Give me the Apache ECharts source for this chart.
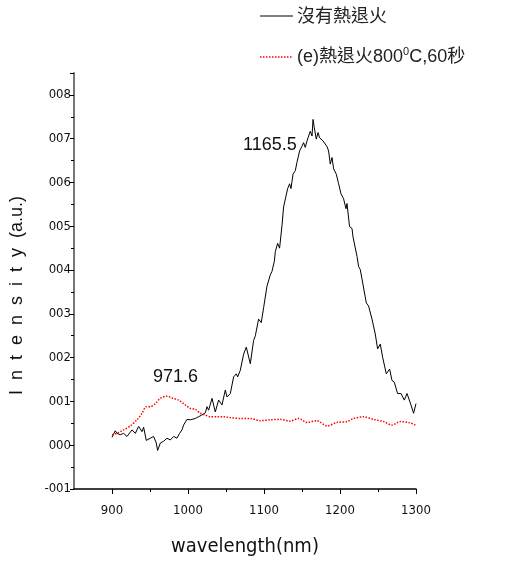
<!DOCTYPE html>
<html><head><meta charset="utf-8">
<script src="https://cdn.jsdelivr.net/npm/echarts@6/dist/echarts.min.js"></script>
<style>html,body{margin:0;padding:0;background:#fff}#c{width:506px;height:562px}</style>
</head><body><div id="c"></div>
<script>
var seriesNames = ['沒有熱退火', '(e)熱退火800⁰C,60秒'];
var xTicks = [900, 1000, 1100, 1200, 1300];
var xMinorTicks = [950, 1050, 1150, 1250];
var peakLabels = ['1165.5', '971.6'];
// black: no annealing [wavelength nm, intensity]
var noAnneal = [
[900,0.0018],[904.3,0.0033],[906.6,0.0027],[910.9,0.0024],[915.3,0.0027],[919.7,0.0020],[926.3,0.0035],[930.7,0.0027],
[935.0,0.0043],[939.5,0.0031],[941.6,0.0041],[945.1,0.0011],[950.4,0.0016],[954.7,0.0020],[958.3,0.0005],[960.0,-0.0012],
[963.6,0.0005],[967.9,0.0009],[972.4,0.0016],[976.7,0.0012],[981.1,0.0020],[985.5,0.0016],[988.9,0.0027],[992.1,0.0035],
[994.2,0.0046],[998.7,0.0059],[1003.0,0.0058],[1009.6,0.0061],[1013.9,0.0065],[1018.4,0.0069],[1022.8,0.0074],[1025.0,0.0088],
[1027.1,0.0080],[1031.6,0.0107],[1035.9,0.0076],[1040.3,0.0103],[1044.7,0.0092],[1049.1,0.0126],[1051.3,0.0110],[1055.7,0.0118],
[1060.0,0.0156],[1063.6,0.0163],[1065.3,0.0156],[1068.8,0.0171],[1073.2,0.0208],[1076.7,0.0224],[1082.0,0.0186],[1086.3,0.0239],
[1088.6,0.0250],[1092.9,0.0288],[1096.4,0.0280],[1099.5,0.0314],[1103.9,0.0363],[1108.3,0.0389],[1110.5,0.0397],[1113.6,0.0420],
[1114.9,0.0442],[1117.9,0.0461],[1120.5,0.0450],[1123.7,0.0502],[1125.8,0.0544],[1128.0,0.0548],[1131.1,0.0586],[1133.7,0.0597],
[1135.5,0.0586],[1138.2,0.0619],[1141.2,0.0627],[1143.4,0.0646],[1146.8,0.0672],[1150.0,0.0683],[1152.1,0.0691],[1154.3,0.0680],
[1156.6,0.0695],[1158.7,0.0691],[1160.9,0.0717],[1163.2,0.0706],[1164.5,0.0744],[1166.2,0.0725],[1168.8,0.0699],[1171.1,0.0714],
[1173.2,0.0702],[1177.6,0.0695],[1179.3,0.0691],[1182.9,0.0682],[1185.0,0.0672],[1187.2,0.0642],[1189.5,0.0657],[1191.6,0.0631],
[1195.1,0.0619],[1198.2,0.0597],[1201.3,0.0574],[1204.7,0.0563],[1207.9,0.0540],[1209.2,0.0552],[1212.6,0.0499],[1215.8,0.0495],
[1217.1,0.0476],[1218.8,0.0476],[1222.4,0.0431],[1224.5,0.0408],[1226.7,0.0401],[1228.9,0.0405],[1231.1,0.0359],[1234.6,0.0325],
[1237.6,0.0318],[1242.1,0.0288],[1246.4,0.0254],[1249.5,0.0220],[1253.0,0.0231],[1256.1,0.0201],[1260.9,0.0163],[1265.3,0.0174],
[1268.4,0.0148],[1271.4,0.0144],[1275.8,0.0118],[1280.3,0.0118],[1282.9,0.0114],[1284.6,0.0103],[1288.2,0.0118],[1290.3,0.0114],
[1293.4,0.0092],[1296.8,0.0073],[1300,0.0095]
];
// red: annealed 800C 60s
var annealed = [
[900,0.0024],[906.6,0.0027],[915.3,0.0035],[924.1,0.0044],[932.9,0.0058],[939.5,0.0073],[945.1,0.0088],[950.4,0.0088],
[957.0,0.0095],[963.6,0.0107],[972.4,0.0112],[978.9,0.0108],[987.6,0.0103],[996.4,0.0092],[1003.0,0.0084],[1009.6,0.0082],
[1016.2,0.0073],[1022.8,0.0069],[1029.3,0.0065],[1038.2,0.0065],[1046.8,0.0065],[1055.7,0.0063],[1068.8,0.0061],[1082.0,0.0061],
[1095.1,0.0056],[1108.3,0.0058],[1121.4,0.0059],[1134.6,0.0055],[1145.5,0.0061],[1156.6,0.0052],[1169.7,0.0056],[1182.9,0.0044],
[1196.1,0.0052],[1209.2,0.0054],[1217.9,0.0061],[1231.1,0.0065],[1244.2,0.0059],[1257.4,0.0054],[1268.4,0.0046],[1279.3,0.0054],
[1290.3,0.0052],[1299.1,0.0046]
];

var chart = echarts.init(document.getElementById('c'));
var lab = {color:'#111', fontFamily:'"Liberation Sans Narrow","DejaVu Sans Condensed","Liberation Sans",sans-serif', fontSize:13};
var txtFont = '"Liberation Sans","Noto Sans CJK TC",sans-serif';
chart.setOption({
  animation:false,
  backgroundColor:'#fff',
  grid:{left:74, right:90, top:73, bottom:69},
  xAxis:[{
    type:'value', min:850, max:1300,
    axisLine:{onZero:false, lineStyle:{color:'#000', width:1.5}},
    axisTick:{length:5, customValues:xTicks, lineStyle:{color:'#000', width:1}},
    axisLabel:Object.assign({margin:15, customValues:xTicks, formatter:function(v){return String(v);}}, lab),
    splitLine:{show:false},
    name:'wavelength(nm)', nameLocation:'middle', nameGap:48,
    nameTextStyle:{color:'#111', fontSize:20, fontFamily:'"Liberation Sans Narrow","DejaVu Sans Condensed","Liberation Sans",sans-serif'}
  },{
    type:'value', min:850, max:1300, position:'bottom',
    axisLine:{show:false, onZero:false},
    axisTick:{length:3, customValues:xMinorTicks, lineStyle:{color:'#000', width:1}},
    axisLabel:{show:false}, splitLine:{show:false}
  }],
  yAxis:{
    type:'value', min:-0.01, max:0.085, interval:0.01,
    axisLine:{show:true, onZero:false, lineStyle:{color:'#777', width:2}},
    axisTick:{length:4, lineStyle:{color:'#000', width:1}},
    minorTick:{show:true, splitNumber:2, length:3, lineStyle:{color:'#000', width:1}},
    axisLabel:Object.assign({margin:3, showMaxLabel:false, formatter:function(v){
      var n=Math.round(v*100); return (n<0?'-':'')+'00'+Math.abs(n);}}, lab),
    splitLine:{show:false}
  },
  graphic:[
    {type:'text', left:8, top:196, rotation:Math.PI/2, style:{text:'I  n  t  e  n  s  i  t  y  (a.u.)', fill:'#111', fontSize:18, fontFamily:'"Liberation Sans",sans-serif'}},
    {type:'text', x:243, y:145, style:{text:peakLabels[0], fill:'#111', fontSize:18, textVerticalAlign:'middle', fontFamily:'"Liberation Sans",sans-serif'}},
    {type:'text', x:153, y:377, style:{text:peakLabels[1], fill:'#111', fontSize:18, textVerticalAlign:'middle', fontFamily:'"Liberation Sans",sans-serif'}},
    {type:'line', shape:{x1:260, y1:16, x2:293, y2:16}, style:{stroke:'#000', lineWidth:1}},
    {type:'line', shape:{x1:260, y1:57, x2:293, y2:57}, style:{stroke:'#ff0000', lineWidth:1.5, lineDash:[1.5,1.5]}},
    {type:'text', x:297, y:17, style:{text:seriesNames[0], fill:'#222', fontSize:18, textVerticalAlign:'middle', fontFamily:txtFont}},
    {type:'text', x:297, y:57, style:{text:'{t|(e)熱退火800}{s|0}{t|C,60秒}', textVerticalAlign:'middle',
      rich:{t:{fontSize:18, lineHeight:22, fill:'#222', fontFamily:txtFont},
            s:{fontSize:11, lineHeight:22, verticalAlign:'top', fill:'#222', fontFamily:'"Liberation Sans",sans-serif'}}}}
  ],
  series:[
    {name:seriesNames[0], type:'line', data:noAnneal, showSymbol:false, symbol:'none',
      lineStyle:{color:'#000', width:1}, itemStyle:{color:'#000'}},
    {name:seriesNames[1], type:'line', data:annealed, showSymbol:false, symbol:'none', smooth:0.3,
      lineStyle:{color:'#ff0000', width:1.5, type:[1.5,1.5]}, itemStyle:{color:'#ff0000'}}
  ]
});
</script></body></html>
